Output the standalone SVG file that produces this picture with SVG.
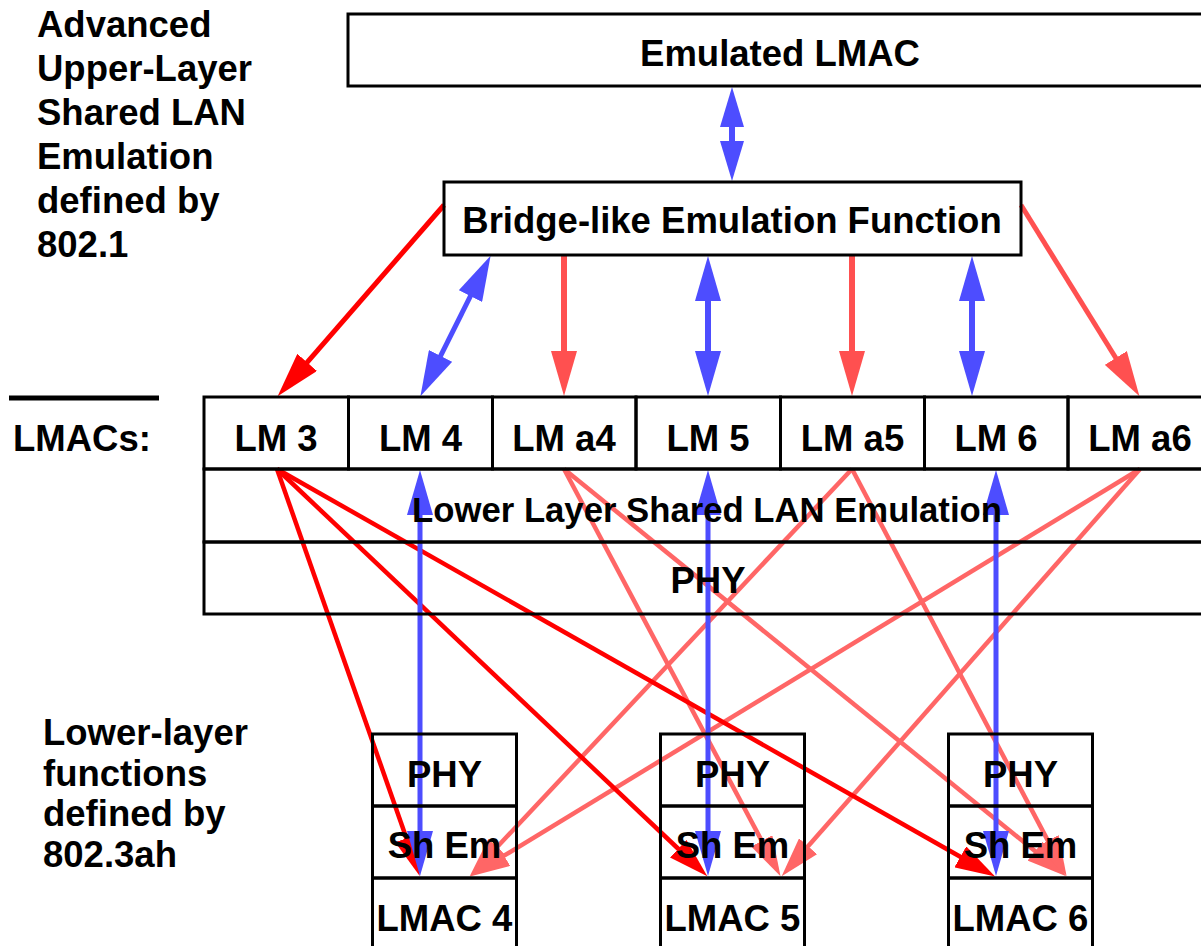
<svg xmlns="http://www.w3.org/2000/svg" width="1201" height="946" viewBox="0 0 1201 946">
<style>
.t{font-family:"Liberation Sans",Arial,Helvetica,sans-serif;font-weight:bold;font-size:36.5px;fill:#000}
.c{text-anchor:middle}
.box{fill:none;stroke:#000;stroke-width:3}
.bl{stroke:#4d4dff;fill:none}
.rd{stroke:#ff0000;fill:none}
.lr{stroke:#ff5050;fill:none}
.lr2{stroke:#ff6666;fill:none}
</style>
<defs>
<marker id="hb" markerUnits="userSpaceOnUse" markerWidth="45" markerHeight="26" viewBox="0 -13 45 26" refX="1" refY="0" orient="auto-start-reverse"><path d="M0,-13 L45,0 L0,13 z" fill="#4d4dff"/></marker>
<marker id="hbs" markerUnits="userSpaceOnUse" markerWidth="40" markerHeight="24" viewBox="0 -12 40 24" refX="1" refY="0" orient="auto-start-reverse"><path d="M0,-12 L40,0 L0,12 z" fill="#4d4dff"/></marker>
<marker id="hr" markerUnits="userSpaceOnUse" markerWidth="45" markerHeight="26" viewBox="0 -13 45 26" refX="1" refY="0" orient="auto"><path d="M0,-13 L45,0 L0,13 z" fill="#ff0000"/></marker>
<marker id="hl" markerUnits="userSpaceOnUse" markerWidth="45" markerHeight="26" viewBox="0 -13 45 26" refX="1" refY="0" orient="auto"><path d="M0,-13 L45,0 L0,13 z" fill="#ff5050"/></marker>
<marker id="hrs" markerUnits="userSpaceOnUse" markerWidth="40" markerHeight="24" viewBox="0 -12 40 24" refX="1" refY="0" orient="auto"><path d="M0,-12 L40,0 L0,12 z" fill="#ff0000"/></marker>
<marker id="hls" markerUnits="userSpaceOnUse" markerWidth="40" markerHeight="24" viewBox="0 -12 40 24" refX="1" refY="0" orient="auto"><path d="M0,-12 L40,0 L0,12 z" fill="#ff6666"/></marker>
</defs>
<rect width="1201" height="946" fill="#fff"/>

<g id="connectors">
<line class="bl" x1="732" y1="126" x2="732" y2="142" stroke-width="6" marker-start="url(#hbs)" marker-end="url(#hbs)"/>
<line class="rd" x1="444" y1="205" x2="306.5" y2="363.1" stroke-width="5" marker-end="url(#hr)"/>
<line class="bl" x1="470.9" y1="295.2" x2="440.1" y2="356.8" stroke-width="5" marker-start="url(#hb)" marker-end="url(#hb)"/>
<line class="lr" x1="564" y1="255" x2="564" y2="352" stroke-width="6" marker-end="url(#hl)"/>
<line class="bl" x1="708" y1="300" x2="708" y2="352" stroke-width="6" marker-start="url(#hb)" marker-end="url(#hb)"/>
<line class="lr" x1="852" y1="255" x2="852" y2="352" stroke-width="6" marker-end="url(#hl)"/>
<line class="bl" x1="972" y1="300" x2="972" y2="352" stroke-width="6" marker-start="url(#hb)" marker-end="url(#hb)"/>
<line class="lr" x1="1021" y1="205" x2="1116.3" y2="358.8" stroke-width="5" marker-end="url(#hl)"/>

<line class="lr2" x1="564" y1="469" x2="762.2" y2="841.7" stroke-width="4.5" marker-end="url(#hls)"/>
<line class="lr2" x1="564" y1="469" x2="1035.9" y2="851.8" stroke-width="4.5" marker-end="url(#hls)"/>
<line class="lr2" x1="852" y1="469" x2="496.4" y2="847.8" stroke-width="4.5" marker-end="url(#hls)"/>
<line class="lr2" x1="852" y1="469" x2="1048.4" y2="841.6" stroke-width="4.5" marker-end="url(#hls)"/>
<line class="lr2" x1="1140" y1="469" x2="503.2" y2="856.2" stroke-width="4.5" marker-end="url(#hls)"/>
<line class="lr2" x1="1140" y1="469" x2="807.4" y2="847" stroke-width="4.5" marker-end="url(#hls)"/>

<line class="rd" x1="277" y1="469" x2="406.8" y2="839.2" stroke-width="4.5" marker-end="url(#hrs)"/>
<line class="rd" x1="277" y1="469" x2="679" y2="849.5" stroke-width="4.5" marker-end="url(#hrs)"/>
<line class="rd" x1="277" y1="469" x2="961.2" y2="857.3" stroke-width="4.5" marker-end="url(#hrs)"/>

<line class="bl" x1="420" y1="514" x2="420" y2="832" stroke-width="5" marker-start="url(#hb)" marker-end="url(#hb)"/>
<line class="bl" x1="708" y1="514" x2="708" y2="832" stroke-width="5" marker-start="url(#hb)" marker-end="url(#hb)"/>
<line class="bl" x1="996" y1="514" x2="996" y2="832" stroke-width="5" marker-start="url(#hb)" marker-end="url(#hb)"/>
</g>

<g id="label-upper">
<text class="t" x="37" y="37">Advanced</text>
<text class="t" x="37" y="81">Upper-Layer</text>
<text class="t" x="37" y="125">Shared LAN</text>
<text class="t" x="37" y="169">Emulation</text>
<text class="t" x="37" y="213">defined by</text>
<text class="t" x="37" y="257">802.1</text>
</g>
<g id="label-lmacs">
<line x1="9" y1="398" x2="159" y2="398" stroke="#000" stroke-width="5"/>
<text class="t" x="13" y="451">LMACs:</text>
</g>
<g id="label-lower">
<text class="t" x="43" y="745">Lower-layer</text>
<text class="t" x="43" y="786">functions</text>
<text class="t" x="43" y="826">defined by</text>
<text class="t" x="43" y="867">802.3ah</text>
</g>

<g id="emulated-lmac">
<rect class="box" x="348" y="14" width="864" height="72"/>
<text class="t c" x="780" y="66">Emulated LMAC</text>
</g>
<g id="bridge">
<rect class="box" x="444" y="182" width="577" height="73"/>
<text class="t c" x="732" y="233">Bridge-like Emulation Function</text>
</g>

<g id="lower-shared">
<rect class="box" x="204" y="469" width="1008" height="73"/>
<text class="t c" x="707" y="522" style="font-size:34.7px">Lower Layer Shared LAN Emulation</text>
</g>
<g id="phy">
<rect class="box" x="204" y="542" width="1008" height="72"/>
<text class="t c" x="708" y="593">PHY</text>
</g>
<g id="lm3"><rect class="box" x="204" y="397" width="144.5" height="72"/><text class="t c" x="276" y="451">LM 3</text></g>
<g id="lm4"><rect class="box" x="348.5" y="397" width="144" height="72"/><text class="t c" x="420.5" y="451">LM 4</text></g>
<g id="lma4"><rect class="box" x="492.5" y="397" width="143.5" height="72"/><text class="t c" x="564" y="451">LM a4</text></g>
<g id="lm5"><rect class="box" x="636" y="397" width="144.5" height="72"/><text class="t c" x="708" y="451">LM 5</text></g>
<g id="lma5"><rect class="box" x="780.5" y="397" width="144" height="72"/><text class="t c" x="852.5" y="451">LM a5</text></g>
<g id="lm6"><rect class="box" x="924.5" y="397" width="143.5" height="72"/><text class="t c" x="996" y="451">LM 6</text></g>
<g id="lma6"><rect class="box" x="1068" y="397" width="144" height="72"/><text class="t c" x="1140" y="451">LM a6</text></g>

<g id="stack4">
<rect class="box" x="372.5" y="734" width="144" height="72"/>
<rect class="box" x="372.5" y="806" width="144" height="72"/>
<rect class="box" x="372.5" y="878" width="144" height="80"/>
<text class="t c" x="444.5" y="787">PHY</text>
<text class="t c" x="444.5" y="858">Sh Em</text>
<text class="t c" x="444.5" y="931">LMAC 4</text>
</g>
<g id="stack5">
<rect class="box" x="660.5" y="734" width="144" height="72"/>
<rect class="box" x="660.5" y="806" width="144" height="72"/>
<rect class="box" x="660.5" y="878" width="144" height="80"/>
<text class="t c" x="732.5" y="787">PHY</text>
<text class="t c" x="732.5" y="858">Sh Em</text>
<text class="t c" x="732.5" y="931">LMAC 5</text>
</g>
<g id="stack6">
<rect class="box" x="948.5" y="734" width="144" height="72"/>
<rect class="box" x="948.5" y="806" width="144" height="72"/>
<rect class="box" x="948.5" y="878" width="144" height="80"/>
<text class="t c" x="1020.5" y="787">PHY</text>
<text class="t c" x="1020.5" y="858">Sh Em</text>
<text class="t c" x="1020.5" y="931">LMAC 6</text>
</g>
</svg>
